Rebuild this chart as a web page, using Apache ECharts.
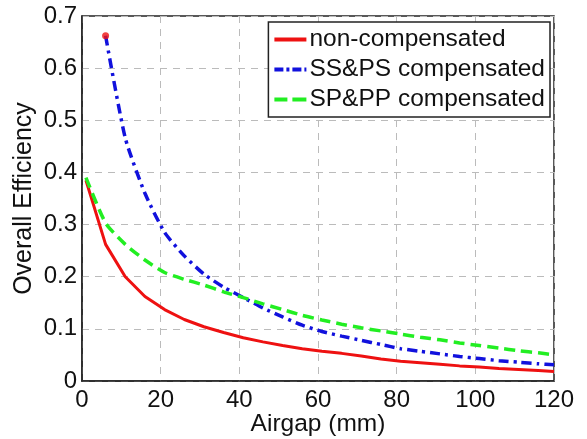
<!DOCTYPE html>
<html><head><meta charset="utf-8">
<script src="https://cdn.jsdelivr.net/npm/echarts@6/dist/echarts.min.js"></script>
<style>html,body{margin:0;padding:0;background:#fff}#c{width:587px;height:439px}</style>
</head><body><div id="c"></div>
<script>
var airgap = [1, 6, 11, 16, 21, 26, 31, 36, 41, 46, 51, 56, 61, 66, 71, 76, 81, 86, 91, 96, 101, 106, 111, 116, 120];
var nonComp = [0.385, 0.262, 0.200, 0.162, 0.137, 0.118, 0.104, 0.093, 0.083, 0.075, 0.068, 0.062, 0.057, 0.053, 0.048, 0.042, 0.038, 0.035, 0.032, 0.029, 0.027, 0.024, 0.022, 0.020, 0.018];
var ssps = [null, 0.662, 0.466, 0.360, 0.285, 0.240, 0.205, 0.180, 0.160, 0.140, 0.123, 0.107, 0.095, 0.086, 0.078, 0.070, 0.062, 0.057, 0.052, 0.047, 0.043, 0.039, 0.036, 0.033, 0.031];
var sppp = [0.390, 0.303, 0.262, 0.232, 0.208, 0.195, 0.184, 0.171, 0.160, 0.148, 0.137, 0.126, 0.117, 0.109, 0.102, 0.096, 0.090, 0.084, 0.079, 0.073, 0.068, 0.063, 0.058, 0.054, 0.050];
var startDot = [[6, 0.662]];
var xTicks = [0, 20, 40, 60, 80, 100, 120];
var yTicks = [0, 0.1, 0.2, 0.3, 0.4, 0.5, 0.6, 0.7];
var names = ['non-compensated', 'SS&PS compensated', 'SP&PP compensated'];

function pairs(ys){ var out=[]; for (var i=0;i<airgap.length;i++){ if (ys[i]!==null) out.push([airgap[i], ys[i]]); } return out; }

var FONT = '"Liberation Sans", Arial, sans-serif';
var RED = '#ee1111', BLUE = '#1111dd', GREEN = '#22ee22';
var chart = echarts.init(document.getElementById('c'));
chart.setOption({
  animation: false,
  backgroundColor: '#fff',
  textStyle: { fontFamily: FONT },
  grid: { left: 82, right: 33, top: 16, bottom: 58, containLabel: false, outerBoundsMode: 'none',
    show: true, borderColor: '#222', borderWidth: 1.5, backgroundColor: 'transparent' },
  legend: {
    data: [
      { name: names[0], icon: 'path://M0,0h32v4h-32z' },
      { name: names[1], icon: 'path://M0,0h9v4h-9zM12,0h3v4h-3zM18,0h9v4h-9zM30,0h2v4h-2z' },
      { name: names[2], icon: 'path://M0,0h13v4h-13zM18,0h14v4h-14z' }
    ],
    orient: 'vertical',
    right: 37, top: 22,
    backgroundColor: '#fff',
    borderColor: '#222', borderWidth: 1.5, borderRadius: 0,
    padding: [5, 5, 5, 6],
    itemWidth: 32, itemHeight: 4, itemGap: 5,
    symbolKeepAspect: false,
    textStyle: { fontFamily: FONT, fontSize: 24.5, color: '#111', padding: [0, 0, 0, -2] }
  },
  xAxis: {
    type: 'value', min: 0, max: 120, interval: 20,
    name: 'Airgap (mm)', nameLocation: 'middle', nameGap: 31, nameMoveOverlap: false,
    nameTextStyle: { fontFamily: FONT, fontSize: 24.5, color: '#111' },
    axisLine: { show: true, lineStyle: { color: '#222', width: 1.5 } },
    axisTick: { show: false },
    axisLabel: { fontFamily: FONT, fontSize: 24, color: '#111', margin: 7 },
    splitLine: { show: true, lineStyle: { color: '#bbb', type: [7, 6], width: 1 } }
  },
  yAxis: {
    type: 'value', min: 0, max: 0.7, interval: 0.1,
    name: 'Overall Efficiency', nameLocation: 'middle', nameGap: 45, nameMoveOverlap: false,
    nameTextStyle: { fontFamily: FONT, fontSize: 25, color: '#111' },
    axisLine: { show: true, lineStyle: { color: '#222', width: 1.5 } },
    axisTick: { show: false },
    axisLabel: { fontFamily: FONT, fontSize: 24, color: '#111', margin: 5,
      formatter: function(v){ return (Math.round(v*10)/10).toString(); } },
    splitLine: { show: true, lineStyle: { color: '#bbb', type: [7, 6], width: 1 } }
  },
  series: [
    { name: names[0], type: 'line', data: pairs(nonComp), symbol: 'none', smooth: false,
      lineStyle: { color: RED, width: 3 }, itemStyle: { color: RED } },
    { name: names[1], type: 'line', data: pairs(ssps), symbol: 'none', smooth: 0.2,
      lineStyle: { color: BLUE, width: 3.5, type: [10, 5, 3, 5] }, itemStyle: { color: BLUE } },
    { name: names[2], type: 'line', data: pairs(sppp), symbol: 'none', smooth: 0.2,
      lineStyle: { color: GREEN, width: 3.5, type: [11, 6] }, itemStyle: { color: GREEN } },
    { name: 'start', type: 'scatter', data: startDot, symbol: 'circle', symbolSize: 7,
      itemStyle: { color: RED }, z: 5 }
  ]
});
</script>
</body></html>
